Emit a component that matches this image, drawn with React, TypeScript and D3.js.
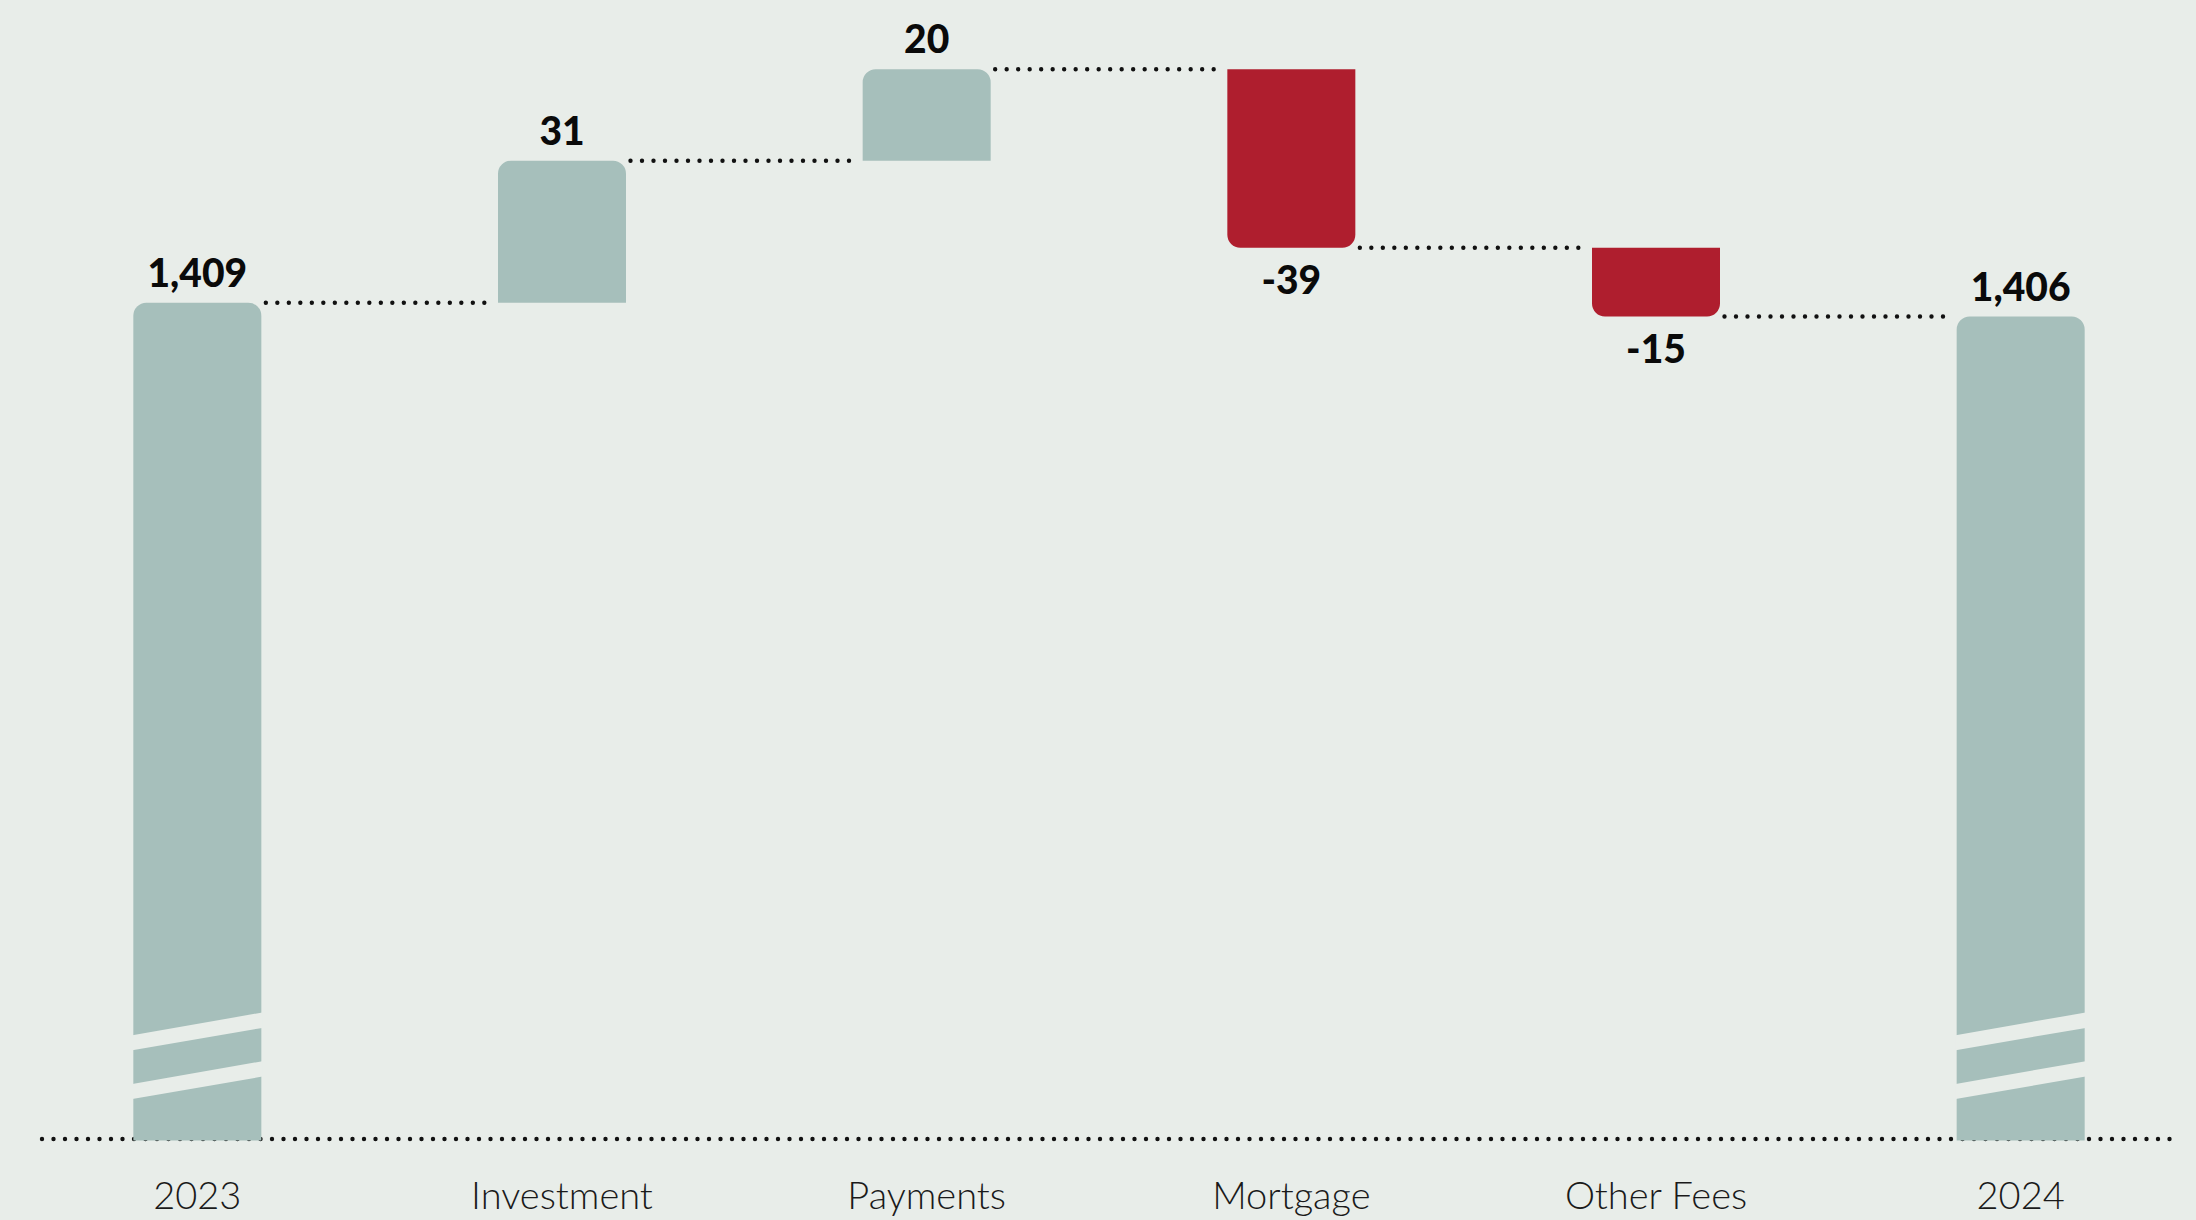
import React, { useEffect } from "react";
import * as d3 from "d3";

const categories = ["2023", "Investment", "Payments", "Mortgage", "Other Fees", "2024"];
const kinds = ["total", "delta", "delta", "delta", "delta", "total"];
const values = [1409, 31, 20, -39, -15, 1406];

const W = 2196;
const H = 1220;
const BG = "#e8ede9";
const BAR = "#a6bfbb";
const RED = "#af1e2e";
const BASE_Y = 1139;

function roundedRect(x: number, y0: number, w: number, y1: number, r: number, roundTop: boolean) {
  const p = d3.path();
  if (roundTop) {
    p.moveTo(x, y1);
    p.lineTo(x, y0 + r);
    p.arcTo(x, y0, x + r, y0, r);
    p.lineTo(x + w - r, y0);
    p.arcTo(x + w, y0, x + w, y0 + r, r);
    p.lineTo(x + w, y1);
    p.closePath();
  } else {
    p.moveTo(x, y0);
    p.lineTo(x + w, y0);
    p.lineTo(x + w, y1 - r);
    p.arcTo(x + w, y1, x + w - r, y1, r);
    p.lineTo(x + r, y1);
    p.arcTo(x, y1, x, y1 - r, r);
    p.closePath();
  }
  return p.toString();
}

export default function App() {
  useEffect(() => {
    document.body.style.margin = "0";
    document.body.style.background = BG;
  }, []);

  const x = d3
    .scaleBand<string>()
    .domain(categories)
    .range([15, 2203])
    .paddingInner(0.649)
    .paddingOuter(0.3245);
  const bw = x.bandwidth();

  const y = d3.scaleLinear().domain([1406, 1460]).range([316.5, 69.2]);

  const bars: { cat: string; start: number; end: number; kind: string; v: number }[] = [];
  let level = 0;
  values.forEach((v, i) => {
    if (kinds[i] === "total") {
      bars.push({ cat: categories[i], start: 0, end: v, kind: "total", v });
      level = v;
    } else {
      bars.push({ cat: categories[i], start: level, end: level + v, kind: "delta", v });
      level = level + v;
    }
  });

  const fmt = (v: number) => d3.format(",")(v).replace("\u2212", "-");

  const dotStyle = {
    stroke: "#111",
    strokeWidth: 4.4,
    strokeLinecap: "round" as const,
    strokeDasharray: "0 11.5",
    fill: "none",
  };

  return (
    <svg
      width={W}
      height={H}
      style={{ position: "absolute", left: 0, top: 0, display: "block" }}
      fontFamily="Lato, 'Open Sans', sans-serif"
    >
      <rect x={0} y={0} width={W} height={H} fill={BG} />
      <line x1={42} x2={2178} y1={BASE_Y} y2={BASE_Y} {...dotStyle} />
      {bars.slice(0, -1).map((b, i) => {
        const nx = x(categories[i + 1])!;
        const cx = x(b.cat)! + bw + 4.5;
        const yy = y(b.end);
        return <line key={"c" + i} x1={cx} x2={nx - 7} y1={yy} y2={yy} {...dotStyle} />;
      })}
      {bars.map((b) => {
        const bx = x(b.cat)!;
        const cx = bx + bw / 2;
        if (b.kind === "total") {
          const top = y(b.end);
          const bottom = BASE_Y + 1.5;
          const slope = 22.3;
          const s1 = BASE_Y - 104;
          const s2 = BASE_Y - 55.3;
          const th = 15;
          const stripe = (yl: number) =>
            `M${bx - 1},${yl + 0.2} L${bx + bw + 1},${yl - slope - 0.2} L${bx + bw + 1},${yl - slope + th + 0.2} L${bx - 1},${yl + th + 0.2} Z`;
          return (
            <g key={b.cat}>
              <path d={roundedRect(bx, top, bw, bottom, 13, true)} fill={BAR} />
              <path d={stripe(s1)} fill={BG} />
              <path d={stripe(s2)} fill={BG} />
              <text x={cx} y={top - 16} textAnchor="middle" fontWeight={900} fontSize={39} fill="#0a0a0a">
                {fmt(b.v)}
              </text>
            </g>
          );
        }
        const pos = b.v >= 0;
        const top = y(Math.max(b.start, b.end));
        const bottom = y(Math.min(b.start, b.end));
        return (
          <g key={b.cat}>
            <path d={roundedRect(bx, top, bw, bottom, 13, pos)} fill={pos ? BAR : RED} />
            <text
              x={cx}
              y={pos ? top - 16 : bottom + 46}
              textAnchor="middle"
              fontWeight={900}
              fontSize={39}
              fill="#0a0a0a"
            >
              {fmt(b.v)}
            </text>
          </g>
        );
      })}
      {categories.map((c) => (
        <text
          key={"l" + c}
          x={x(c)! + bw / 2}
          y={1209}
          textAnchor="middle"
          fontWeight={300}
          fontSize={38}
          fill="#1a1a1a"
        >
          {c}
        </text>
      ))}
    </svg>
  );
}
